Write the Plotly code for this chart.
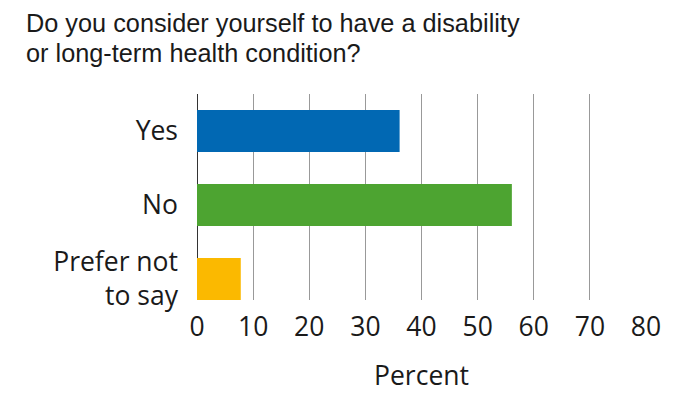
import plotly.graph_objects as go

categories = ["Yes", "No", "Prefer not<br>to say"]
values = [36.1, 56.1, 7.8]
colors = ["#0168B3", "#4DA431", "#FBB900"]
x_ticks = [0, 10, 20, 30, 40, 50, 60, 70, 80]
title_lines = ["Do you consider yourself to have a disability",
               "or long-term health condition?"]

fig = go.Figure(go.Bar(
    y=categories, x=values, orientation="h",
    marker=dict(color=colors, line=dict(width=0)),
    width=0.568,
))

W, H = 687, 393
L, R, T, B = 197, 41, 94, 93
PW, PH = W - L - R, H - T - B

def px_to_paper(xp, yp):
    return (xp - L) / PW, (H - B - yp) / PH

for i, (line, yc) in enumerate(zip(title_lines, [23, 53])):
    ax, ay = px_to_paper(24, yc)
    fig.add_annotation(
        text=line, xref="paper", yref="paper", x=ax, y=ay,
        xanchor="left", yanchor="middle", showarrow=False,
        font=dict(family="Liberation Sans", size=25.3, color="#1a1a1a"),
    )

fig.update_layout(
    width=W, height=H,
    margin=dict(l=L, r=R, t=T, b=B, autoexpand=False),
    paper_bgcolor="white", plot_bgcolor="white",
    showlegend=False,
    font=dict(family="Open Sans", size=26.5, color="#1a1a1a"),
    xaxis=dict(
        range=[0, 80], tickvals=x_ticks,
        showgrid=True, gridcolor="#999999", gridwidth=1.3,
        zeroline=True, zerolinecolor="#333333", zerolinewidth=1.3,
        ticks="", showline=False, automargin=False,
        ticklabelstandoff=8,
        title=dict(text="Percent", standoff=26, font=dict(size=26.5)),
        tickfont=dict(size=26.5),
    ),
    yaxis=dict(
        categoryorder="array", categoryarray=categories,
        range=[2.284, -0.5], automargin=False,
        showgrid=False, zeroline=False, showline=False, ticks="",
        ticklabelstandoff=18,
        tickfont=dict(size=26.5),
    ),
)

fig.write_html("out.html")
